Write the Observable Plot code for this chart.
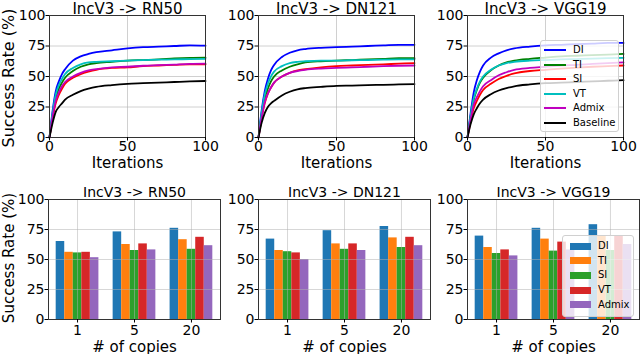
<!DOCTYPE html>
<html><head><meta charset="utf-8">
<script src="https://cdn.jsdelivr.net/npm/d3@7"></script>
<script src="https://cdn.jsdelivr.net/npm/@observablehq/plot@0.6"></script>
<style>
body{margin:0;background:#fff;}
#root{position:relative;width:640px;height:354px;overflow:hidden;font-family:"DejaVu Sans";color:#000;font-weight:normal;}
.panel{position:absolute;}
.panel text{font-weight:normal;}
.ylab{position:absolute;white-space:nowrap;line-height:1;transform:translate(-50%,-50%) rotate(-90deg);}
.legend{position:absolute;background:rgba(255,255,255,0.8);border:1px solid #d0d0d0;border-radius:3px;box-sizing:border-box;font-size:10px;}
.legend .sw{position:absolute;}
.legend .lab{position:absolute;white-space:nowrap;}
</style></head><body><div id="root"></div>
<script>
// ---- line charts (success rate vs iterations) ----
const iterations = [0, 2, 4, 6, 8, 10, 15, 20, 25, 30, 40, 50, 60, 70, 80, 90, 100];
const lineMethods = ["DI", "TI", "SI", "VT", "Admix", "Baseline"];
const lineColors = ["#0000ff", "#008000", "#ff0000", "#00bfbf", "#bf00bf", "#000000"];
// order: DI, TI, SI, VT, Admix, Baseline
const rn50Curves = [
  [0, 22, 38, 46, 52, 56, 63, 66.5, 68.5, 70, 71.5, 73, 74, 74.5, 75, 75.5, 75.3],
  [0, 18, 32, 40, 45, 49, 54.5, 58, 60, 61, 62, 63, 63.5, 64, 64.8, 65.3, 65.5],
  [0, 16, 28, 35, 40, 44, 49, 52, 54, 55.5, 57, 57.5, 58.5, 59, 59.5, 60, 60],
  [0, 20, 35, 43, 48, 52, 57, 60, 61.5, 62, 62.5, 63, 63.5, 63.8, 64, 64.3, 64.5],
  [0, 17, 30, 37, 42, 45.5, 50, 53, 55, 56, 57.5, 58, 58.8, 59.3, 59.8, 60.3, 60.5],
  [0, 12, 21, 25, 28, 31, 35, 38, 40, 41.5, 43, 44, 44.5, 45, 45.5, 46, 46.3]
];
const dn121Curves = [
  [0, 22, 38, 48, 55, 59.5, 66, 69.5, 71.5, 72.5, 73.5, 74, 74.5, 75, 75.5, 76, 76],
  [0, 18, 32, 40, 46, 50, 55, 58, 60, 61.5, 62.5, 63, 63.5, 64, 64.5, 65, 65],
  [0, 16, 28, 36, 41, 45, 50, 53, 55, 56, 57.5, 58.5, 59, 59.5, 60, 60.5, 61],
  [0, 20, 35, 44, 50, 54, 58.5, 61, 62, 62.5, 63, 63, 63.3, 63.5, 63.8, 64, 64],
  [0, 16, 29, 36, 41, 45, 50, 53, 54.5, 55.5, 56.5, 57, 57.5, 58, 58.5, 58.8, 59],
  [0, 12, 20, 25, 28, 30, 34.5, 37.5, 39.5, 40.5, 41.5, 42.3, 42.6, 43, 43.2, 43.5, 43.8]
];
const vgg19Curves = [
  [0, 20, 37, 47, 54, 59, 65.5, 69, 71.5, 73, 74.5, 75.5, 76, 76.5, 77, 77.5, 77.5],
  [0, 17, 31, 39, 45, 49, 55, 59, 61.5, 63, 64.5, 65.5, 66.5, 67, 67.5, 68, 68.5],
  [0, 13, 24, 30, 35, 39, 44, 48, 50.5, 52.5, 54.5, 55.5, 56.5, 57.3, 58, 58.5, 59],
  [0, 18, 32, 40, 46, 50, 55.5, 59, 61, 62, 63, 63.5, 64, 64.3, 64.6, 65, 65.3],
  [0, 15, 27, 33, 38, 42, 47, 51, 53.5, 55.5, 57, 58, 59, 59.5, 60.3, 61, 61.5],
  [0, 11, 19, 24, 28, 31, 35.5, 38.5, 40.5, 42, 43.5, 44.5, 45, 45.5, 46, 46.5, 47]
];

// ---- bar charts (success rate vs # of copies) ----
const copies = ["1", "5", "20"];
const barMethods = ["DI", "TI", "SI", "VT", "Admix"];
const barColors = ["#1f77b4", "#ff7f0e", "#2ca02c", "#d62728", "#9467bd"];
// per method, values for copies 1, 5, 20
const rn50Bars = [[65, 73, 76], [56, 62.5, 66.5], [55.5, 57.5, 58.5], [56, 63, 68.5], [51.5, 58, 61.5]];
const dn121Bars = [[67, 74, 77.5], [57.5, 63, 68], [56.5, 58.5, 60], [55.5, 63, 68.5], [50, 57.5, 61.5]];
const vgg19Bars = [[69.5, 76, 79], [60, 67, 69.5], [55, 57, 57.5], [58, 64.5, 69.5], [53, 58, 62.5]];

const yTicks = [0, 25, 50, 75, 100];
const FONT = "DejaVu Sans";
const root = document.getElementById("root");

function place(el, left, top) {
  el.classList.add("panel");
  el.style.left = left + "px";
  el.style.top = top + "px";
  root.appendChild(el);
}

function linePanel(title, curves) {
  const data = curves.flatMap((vals, mi) => vals.map((v, k) => ({method: lineMethods[mi], it: iterations[k], v})));
  return Plot.plot({
    width: 211, height: 175, marginLeft: 49, marginRight: 6, marginTop: 15, marginBottom: 38,
    style: {fontFamily: FONT, fontSize: "14px", fontWeight: "normal", background: "transparent", overflow: "visible", color: "#000"},
    x: {domain: [0, 100]},
    y: {domain: [0, 100]},
    color: {domain: lineMethods, range: lineColors},
    marks: [
      Plot.gridX({ticks: [0, 50, 100], stroke: "#b0b0b0", strokeOpacity: 0.6}),
      Plot.gridY({ticks: yTicks, stroke: "#b0b0b0", strokeOpacity: 0.6}),
      Plot.line(data, {x: "it", y: "v", z: "method", stroke: "method", strokeWidth: 1.8, curve: "monotone-x"}),
      Plot.frame({stroke: "#333"}),
      Plot.axisX({ticks: [0, 50, 100], tickSize: 3.5, tickPadding: 0, label: null, fontSize: 14}),
      Plot.axisY({ticks: yTicks, tickSize: 3.5, tickPadding: 0.5, label: null, fontSize: 14}),
      Plot.text([title], {text: d => d, frameAnchor: "top", dy: -2, lineAnchor: "bottom", fontSize: 15, fontWeight: "normal"}),
      Plot.text(["Iterations"], {text: d => d, frameAnchor: "bottom", dy: 30, fontSize: 15, fontWeight: "normal"})
    ]
  });
}

const barWidth = 0.15;
function barPanel(title, bars) {
  const data = bars.flatMap((vals, mi) => vals.map((v, gi) => ({method: barMethods[mi], mi, gi, v})));
  return Plot.plot({
    width: 222, height: 179, marginLeft: 48, marginRight: 2, marginTop: 24, marginBottom: 35,
    style: {fontFamily: FONT, fontSize: "14px", fontWeight: "normal", background: "transparent", overflow: "visible", color: "#000"},
    x: {domain: [-0.51, 2.51]},
    y: {domain: [0, 100]},
    color: {domain: barMethods, range: barColors},
    marks: [
      Plot.rectY(data, {
        x1: d => d.gi + (d.mi - 2.5) * barWidth,
        x2: d => d.gi + (d.mi - 1.5) * barWidth,
        y: "v", fill: "method"
      }),
      Plot.gridX({ticks: [0, 1, 2], stroke: "#b0b0b0", strokeOpacity: 0.5}),
      Plot.gridY({ticks: yTicks, stroke: "#b0b0b0", strokeOpacity: 0.5}),
      Plot.frame({stroke: "#333"}),
      Plot.axisX({ticks: [0, 1, 2], tickFormat: i => copies[i], tickSize: 3.5, tickPadding: 2, label: null, fontSize: 14}),
      Plot.axisY({ticks: yTicks, tickSize: 3.5, tickPadding: 0.5, label: null, fontSize: 14}),
      Plot.text([title], {text: d => d, frameAnchor: "top", dy: -3, lineAnchor: "bottom", fontSize: 14, fontWeight: "normal"}),
      Plot.text(["# of copies"], {text: d => d, frameAnchor: "bottom", dy: 32, fontSize: 15, fontWeight: "normal"})
    ]
  });
}

place(linePanel("IncV3 -> RN50", rn50Curves), 0, 0);
place(linePanel("IncV3 -> DN121", dn121Curves), 209, 0);
place(linePanel("IncV3 -> VGG19", vgg19Curves), 418, 0);
place(barPanel("IncV3 -> RN50", rn50Bars), 0, 175);
place(barPanel("IncV3 -> DN121", dn121Bars), 210, 175);
place(barPanel("IncV3 -> VGG19", vgg19Bars), 419, 175);

function ylabel(cx, cy, size) {
  const d = document.createElement("div");
  d.className = "ylab";
  d.textContent = "Success Rate (%)";
  d.style.left = cx + "px";
  d.style.top = cy + "px";
  d.style.fontSize = size + "px";
  root.appendChild(d);
}
ylabel(9, 78, 16);
ylabel(8.5, 258, 15);

function legend(left, top, width, height, names, colors, kind, swX, swW, txtX, rowY0, rowStep) {
  const box = document.createElement("div");
  box.className = "legend";
  Object.assign(box.style, {left: left + "px", top: top + "px", width: width + "px", height: height + "px"});
  names.forEach((n, i) => {
    const cy = rowY0 + i * rowStep;
    const sw = document.createElement("div");
    sw.className = "sw";
    const h = kind === "line" ? 2 : 7;
    Object.assign(sw.style, {left: swX + "px", top: (cy - h / 2) + "px", width: swW + "px", height: h + "px", background: colors[i]});
    const lab = document.createElement("div");
    lab.className = "lab";
    lab.textContent = n;
    Object.assign(lab.style, {left: txtX + "px", top: (cy - 7) + "px", lineHeight: "14px"});
    box.appendChild(sw);
    box.appendChild(lab);
  });
  root.appendChild(box);
}
legend(540, 40, 79, 92, lineMethods, lineColors, "line", 3, 22, 32, 9, 14.6);
legend(562, 235, 72, 82, barMethods, barColors, "bar", 7, 21, 35, 10, 14.7);
</script>
</body></html>
